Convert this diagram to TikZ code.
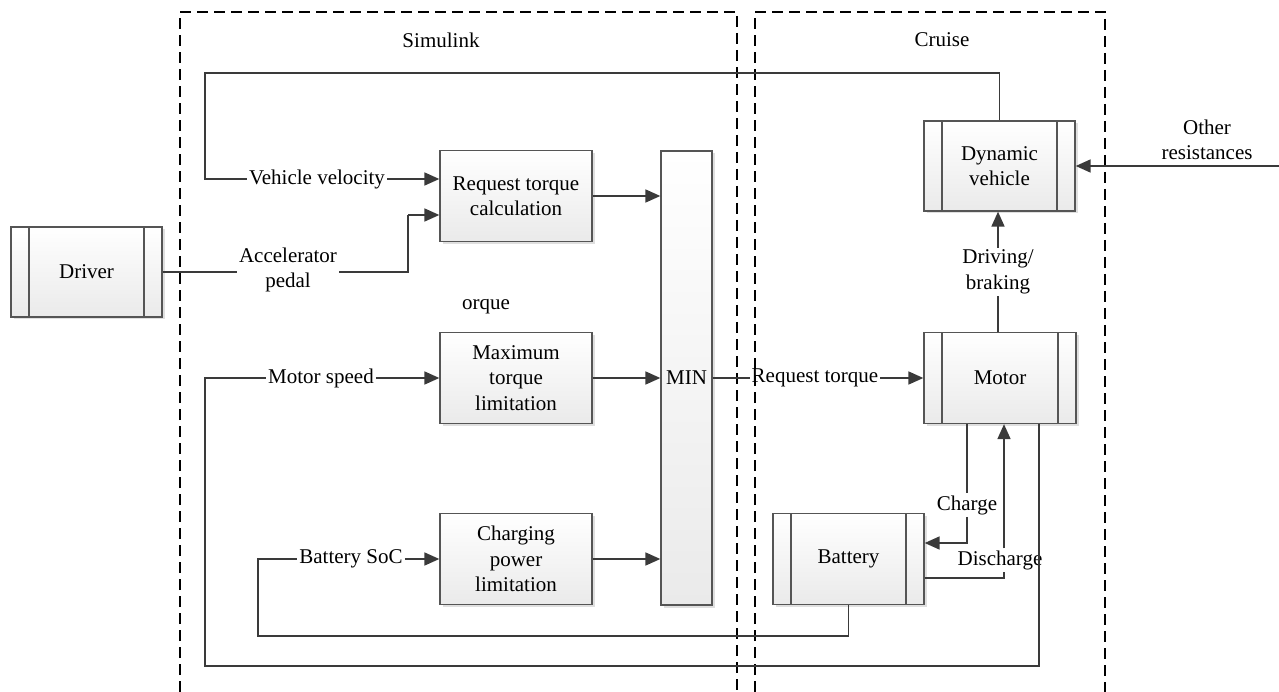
\documentclass[tikz,border=0pt]{standalone}
\usepackage{fontspec}
\setmainfont{Liberation Serif}
\usetikzlibrary{arrows.meta,shadows}
\definecolor{lc}{HTML}{3A3A3A}
\definecolor{bc}{HTML}{555555}
\definecolor{boxbot}{HTML}{EAEAEA}
\begin{document}
\begin{tikzpicture}[x=1pt,y=-1pt,
  every node/.style={font=\fontsize{21}{25.5}\selectfont, text=black},
  blk/.style={draw=bc, line width=1.3pt, top color=white, bottom color=boxbot,
    minimum width=152pt, minimum height=91pt, align=center, inner sep=2pt,
    drop shadow={shadow xshift=2.5pt, shadow yshift=-2.5pt, opacity=0.25, fill=gray}},
  subblk/.style={blk, path picture={\draw[bc, line width=1.3pt]
    ([xshift=18pt]path picture bounding box.north west) -- ([xshift=18pt]path picture bounding box.south west)
    ([xshift=-18pt]path picture bounding box.north east) -- ([xshift=-18pt]path picture bounding box.south east);}},
  lbl/.style={inner sep=2pt, align=center},
  wire/.style={draw=lc, line width=1.7pt},
  arr/.style={wire, -{Triangle[length=15pt,width=13pt]}},
  region/.style={draw=black, line width=1.5pt, dash pattern=on 11pt off 6pt}
]
\useasboundingbox (0,0) rectangle (1279,692);

% regions
\draw[region] (180,692) -- (180,12) -- (737,12) -- (737,692);
\draw[region] (755,692) -- (755,12) -- (1105,12) -- (1105,692);
\node[lbl] (simulink) at (441,40) {Simulink};
\node[lbl] (cruise) at (942,40) {Cruise};

% blocks
\node[subblk, minimum width=151pt, minimum height=90pt] (driver) at (86.5,272) {Driver};
\node[blk] (req) at (516,196) {Request torque\\calculation};
\node[blk] (maxt) at (516,378) {Maximum\\torque\\limitation};
\node[blk] (chg) at (516,559) {Charging\\power\\limitation};
\node[blk, minimum width=51pt, minimum height=454pt] (min) at (686.5,378) {MIN};
\node[subblk, minimum width=151pt, minimum height=90pt] (dyn) at (999.5,166) {Dynamic\\vehicle};
\node[subblk] (motor) at (1000,378) {Motor};
\node[subblk, minimum width=151pt] (batt) at (848.5,559) {Battery};

% labels
\node[lbl] (vv) at (317,179) {Vehicle velocity};
\node[lbl] (acc) at (288,270) {Accelerator\\pedal};
\node[lbl] (orq) at (486,307) {orque};
\node[lbl] (ms) at (321,378) {Motor speed};
\node[lbl] (soc) at (351,559) {Battery SoC};
\node[lbl] (rt) at (815,378) {Request torque};
\node[lbl] (drv) at (998,272) {Driving/\\braking};
\node[lbl] (chl) at (967,505) {Charge};
\node[lbl] (dis) at (1000,560) {Discharge};
\node[lbl] (oth) at (1207,140) {Other\\resistances};

% coordinates
\coordinate (tl) at (205,73);
\coordinate (vvl) at (205,179);
\coordinate (accx) at (408,272);
\coordinate (accy) at (408,215);
\coordinate (msb) at (205,666);
\coordinate (msl) at (205,378);
\coordinate (mr) at (1039,666);
\coordinate (sb) at (258,636);
\coordinate (sl) at (258,559);
\coordinate (cx) at (967,543);
\coordinate (dx) at (1004,578);
\coordinate (oe) at (1279,166);

% connectors
\draw[wire] (dyn.north) |- (tl) -- (vvl) -- (vv.west);
\draw[arr] (vv.east) -- (req.west |- vv.east);
\draw[wire] (driver.east) -- (acc.west |- driver.east);
\draw[wire] (acc.east |- accx) -- (accx) -- (accy);
\draw[arr] (accy) -- (req.west |- accy);
\draw[arr] (req.east) -- (min.west |- req.east);
\draw[arr] (maxt.east) -- (min.west |- maxt.east);
\draw[arr] (chg.east) -- (min.west |- chg.east);
\draw[wire] (motor.south -| mr) -- (mr) -- (msb) -- (msl) -- (ms.west);
\draw[arr] (ms.east) -- (maxt.west |- ms.east);
\draw[wire] (batt.south) |- (sb) -- (sl) -- (soc.west);
\draw[arr] (soc.east) -- (chg.west |- soc.east);
\draw[wire] (min.east) -- (rt.west);
\draw[arr] (rt.east) -- (motor.west |- rt.east);
\draw[wire] (motor.north -| drv) -- (drv.south);
\draw[arr] (drv.north) -- (dyn.south -| drv.north);
\draw[arr] (oe) -- (dyn.east |- oe);
\draw[wire] (motor.south -| chl) -- (chl.north);
\draw[arr] (chl.south) |- (batt.east |- cx);
\draw[wire] (batt.east |- dx) -- (dx) -- (dis.south -| dx);
\draw[arr] (dis.north -| dx) -- (motor.south -| dx);
\end{tikzpicture}
\end{document}
